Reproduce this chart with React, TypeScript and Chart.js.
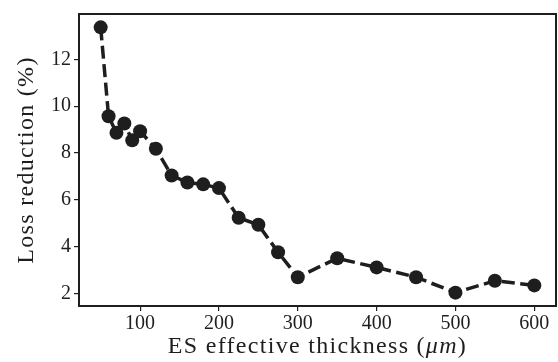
import React, { useEffect, useRef } from "react";
import { Chart, registerables } from "chart.js";

Chart.register(...registerables);

const thickness = [50, 60, 70, 80, 90, 100, 120, 140, 160, 180, 200, 225, 250, 275, 300, 350, 400, 450, 500, 550, 600];
const lossReduction = [13.37, 9.57, 8.86, 9.26, 8.54, 8.93, 8.18, 7.04, 6.74, 6.66, 6.5, 5.23, 4.93, 3.76, 2.69, 3.5, 3.11, 2.69, 2.03, 2.54, 2.34];
const xTicks = [100, 200, 300, 400, 500, 600];
const yTicks = [2, 4, 6, 8, 10, 12];
const xTitleParts = [
  { text: "ES effective thickness (", italic: false },
  { text: "μm", italic: true },
  { text: ")", italic: false },
];
const yTitle = "Loss reduction (%)";

const INK = "#1e1e1e";
const FONT = "'Liberation Serif', 'DejaVu Serif', serif";

const framePlugin = {
  id: "frameAndTitles",
  afterDraw(chart: any) {
    const { ctx, chartArea } = chart;
    const { left, right, top, bottom } = chartArea;
    ctx.save();
    ctx.strokeStyle = INK;
    ctx.lineWidth = 2;
    ctx.strokeRect(left, top, right - left, bottom - top);

    const size = 24;
    const normal = `${size}px ${FONT}`;
    const ital = `italic ${size}px ${FONT}`;
    (ctx as any).letterSpacing = "1.3px";
    let total = 0;
    const widths = xTitleParts.map((p) => {
      ctx.font = p.italic ? ital : normal;
      const w = ctx.measureText(p.text).width;
      total += w;
      return w;
    });
    let x = (left + right) / 2 - total / 2;
    ctx.fillStyle = INK;
    ctx.textBaseline = "alphabetic";
    ctx.textAlign = "left";
    xTitleParts.forEach((p, i) => {
      ctx.font = p.italic ? ital : normal;
      ctx.fillText(p.text, x, 353);
      x += widths[i];
    });

    ctx.translate(33, (top + bottom) / 2);
    ctx.rotate(-Math.PI / 2);
    ctx.font = normal;
    ctx.textAlign = "center";
    ctx.fillText(yTitle, 0, 0);
    ctx.restore();
  },
};

export default function App() {
  const ref = useRef<HTMLCanvasElement | null>(null);
  useEffect(() => {
    if (!ref.current) return;
    const chart = new Chart(ref.current, {
      type: "line",
      data: {
        datasets: [
          {
            data: thickness.map((t, i) => ({ x: t, y: lossReduction[i] })),
            borderColor: INK,
            backgroundColor: INK,
            borderWidth: 3.5,
            borderDash: [13, 5.5],
            pointRadius: 7,
            pointBackgroundColor: INK,
            pointBorderColor: INK,
            pointBorderWidth: 0,
            tension: 0,
            fill: false,
          },
        ],
      },
      options: {
        animation: false,
        responsive: false,
        maintainAspectRatio: false,
        layout: { autoPadding: false, padding: { left: 0, top: 14, right: 2, bottom: 0 } },
        plugins: { legend: { display: false }, tooltip: { enabled: false } },
        scales: {
          x: {
            type: "linear",
            min: 22.5,
            max: 627.5,
            afterBuildTicks: (s: any) => {
              s.ticks = xTicks.map((v) => ({ value: v }));
            },
            afterFit: (s: any) => {
              s.height = 56;
              s.paddingLeft = 0;
              s.paddingRight = 0;
            },
            border: { display: false },
            grid: { drawOnChartArea: false, drawTicks: true, tickLength: 5, color: INK, lineWidth: 1.2 },
            ticks: { color: INK, font: { family: FONT, size: 20 }, padding: 1, maxRotation: 0, autoSkip: false },
          },
          y: {
            type: "linear",
            min: 1.46,
            max: 13.94,
            afterBuildTicks: (s: any) => {
              s.ticks = yTicks.map((v) => ({ value: v }));
            },
            afterFit: (s: any) => {
              s.width = 79;
              s.paddingTop = 0;
              s.paddingBottom = 0;
            },
            border: { display: false },
            grid: { drawOnChartArea: false, drawTicks: true, tickLength: 5, color: INK, lineWidth: 1.2 },
            ticks: { color: INK, font: { family: FONT, size: 20 }, padding: 3, autoSkip: false },
          },
        },
      },
      plugins: [framePlugin],
    });
    return () => chart.destroy();
  }, []);
  return (
    <div style={{ position: "fixed", left: 0, top: 0, width: 558, height: 362, background: "#fff" }}>
      <canvas ref={ref} width={558} height={362} style={{ width: 558, height: 362, display: "block" }} />
    </div>
  );
}
